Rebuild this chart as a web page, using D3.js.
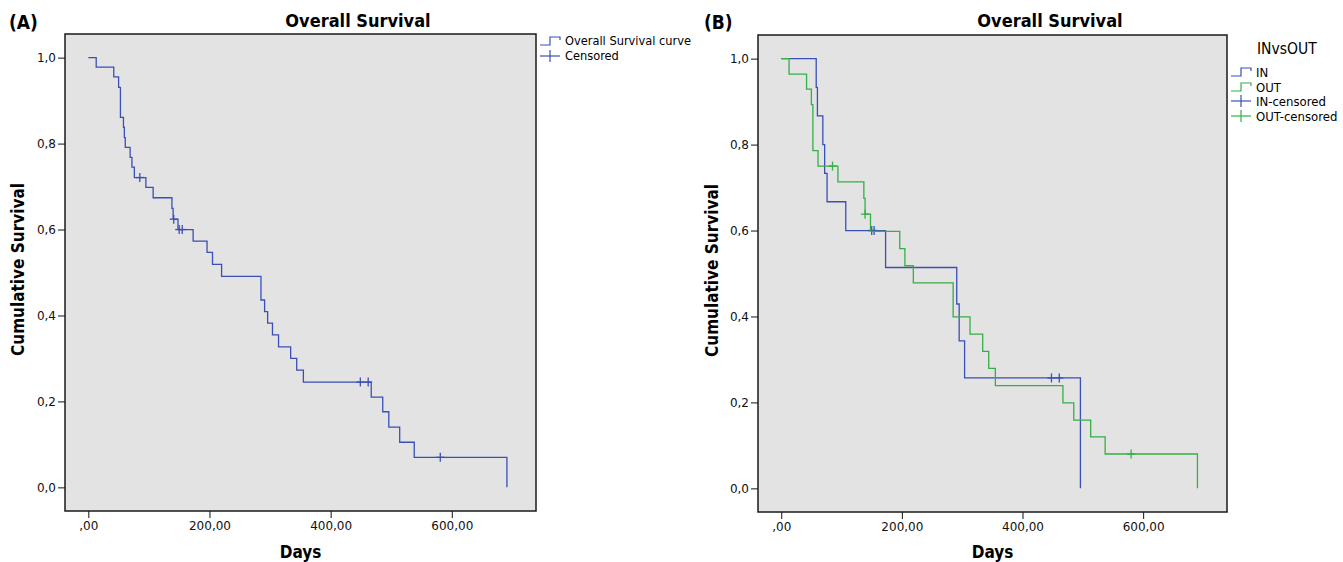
<!DOCTYPE html>
<html>
<head>
<meta charset="utf-8">
<script src="https://cdn.jsdelivr.net/npm/d3@7"></script>
<style>
  body { margin: 0; background: #fff; }
  svg { display: block; }
  .tick text { font-family: "DejaVu Sans", sans-serif; font-size: 12px; fill: #111; }
  .tick line, .domain { stroke: #111; }
</style>
</head>
<body>
<div id="chart"></div>
<script>
// panel A: overall survival (step times in days, survival after each step)
var allTimes = [0, 13, 42, 50, 53, 58, 59.5, 61, 69, 72, 76, 95, 107, 138, 140, 148, 173, 196, 205, 220,
                285, 291, 296, 304, 314, 334, 344, 355, 467, 486, 496, 514, 538, 691];
var allSurv  = [1, 0.978, 0.955, 0.931, 0.861, 0.838, 0.814, 0.791, 0.768, 0.745, 0.721, 0.698, 0.674, 0.649, 0.624, 0.600, 0.573, 0.547, 0.519, 0.491,
                0.436, 0.409, 0.382, 0.355, 0.327, 0.300, 0.273, 0.245, 0.210, 0.176, 0.140, 0.105, 0.070, 0];
var allCensored = [85, 141, 150, 155, 449, 462, 581];

// panel B: IN group
var inTimes = [0, 58, 60, 69, 72, 76, 107, 173, 291, 295, 304, 496];
var inSurv  = [1, 0.933, 0.867, 0.800, 0.733, 0.667, 0.600, 0.514, 0.429, 0.343, 0.257, 0];
var inCensored = [150, 154, 448, 461];

// panel B: OUT group
var outTimes = [0, 13, 42, 50, 52.5, 61, 94, 137, 139, 148, 196.5, 205, 219, 285, 313, 334, 344, 355, 467, 485, 513, 537, 690];
var outSurv  = [1, 0.964, 0.929, 0.893, 0.786, 0.750, 0.713, 0.675, 0.638, 0.598, 0.558, 0.518, 0.478, 0.399, 0.359, 0.319, 0.279, 0.239, 0.199, 0.159, 0.120, 0.080, 0];
var outCensored = [85, 139, 580];

var yTicks = [0, 0.2, 0.4, 0.6, 0.8, 1.0];
var xTicks = [0, 200, 400, 600];

var blue = "#3a4fb8", green = "#34b044";
var bold = "'DejaVu Sans Condensed', 'DejaVu Sans', sans-serif";

var svg = d3.select("#chart").append("svg")
    .attr("width", 1343)
    .attr("height", 562);

function survAt(times, surv, t) {
  var i = d3.bisectRight(times, t) - 1;
  return surv[Math.max(i, 0)];
}

function drawPanel(p) {
  var x = d3.scaleLinear().domain([-38.5, 739]).range([0, p.w]);
  var y = d3.scaleLinear().domain([-0.055, 1.055]).range([p.h, 0]);

  var g = svg.append("g").attr("transform", "translate(" + p.left + "," + p.top + ")");

  g.append("rect")
    .attr("width", p.w).attr("height", p.h)
    .attr("fill", "#e3e3e3");

  // axes
  g.append("g")
    .attr("transform", "translate(0," + p.h + ")")
    .call(d3.axisBottom(x).tickValues(xTicks).tickSize(7).tickPadding(3).tickSizeOuter(0)
      .tickFormat(function(d) { return d === 0 ? ",00" : d + ",00"; }));
  g.append("g")
    .call(d3.axisLeft(y).tickValues(yTicks).tickSize(7).tickPadding(2).tickSizeOuter(0)
      .tickFormat(function(d) { return d3.format(".1f")(d).replace(".", ","); }));

  g.selectAll(".domain").remove();

  g.append("rect")
    .attr("width", p.w).attr("height", p.h)
    .attr("fill", "none")
    .attr("stroke", "#1a1a1a")
    .attr("stroke-width", 1.5);

  var line = d3.line()
    .x(function(d) { return x(d[0]); })
    .y(function(d) { return y(d[1]); })
    .curve(d3.curveStepAfter);

  p.series.forEach(function(s) {
    var pts = s.times.map(function(t, i) { return [t, s.surv[i]]; });
    g.append("path")
      .datum(pts)
      .attr("fill", "none")
      .attr("stroke", s.color)
      .attr("stroke-width", 1.3)
      .attr("d", line);

    var marks = g.selectAll(null)
      .data(s.censored)
      .enter().append("g")
        .attr("transform", function(t) {
          return "translate(" + x(t) + "," + y(survAt(s.times, s.surv, t)) + ")";
        });
    marks.append("line").attr("x1", -4).attr("x2", 4)
      .attr("stroke", s.color).attr("stroke-width", 1.3);
    marks.append("line").attr("y1", -4.5).attr("y2", 4.5)
      .attr("stroke", s.color).attr("stroke-width", 1.3);
  });

  // titles
  svg.append("text")
    .attr("x", p.titleX).attr("y", 27)
    .attr("text-anchor", "middle")
    .style("font-family", bold).style("font-size", "18px").style("font-weight", "bold")
    .text("Overall Survival");
  svg.append("text")
    .attr("x", p.tagX).attr("y", 29)
    .style("font-family", bold).style("font-size", "19px").style("font-weight", "bold")
    .text(p.tag);
  svg.append("text")
    .attr("x", p.left + p.w / 2).attr("y", 558)
    .attr("text-anchor", "middle")
    .style("font-family", bold).style("font-size", "17px").style("font-weight", "bold")
    .text("Days");
  svg.append("text")
    .attr("transform", "translate(" + p.ylabX + "," + (p.top + p.h / 2 - 3) + ") rotate(-90)")
    .attr("text-anchor", "middle")
    .style("font-family", bold).style("font-size", "17px").style("font-weight", "bold")
    .text("Cumulative Survival");

  // legend
  var lg = svg.append("g").attr("transform", "translate(" + p.legX + ",0)");
  if (p.legTitle) {
    lg.append("text")
      .attr("x", 26).attr("y", p.legTitleY)
      .style("font-family", bold).style("font-size", "15.5px")
      .text(p.legTitle);
  }
  p.legend.forEach(function(it) {
    var row = lg.append("g").attr("transform", "translate(0," + it.y + ")");
    if (it.kind === "step") {
      row.append("path")
        .attr("d", "M0,4H10V-4H20V-1")
        .attr("fill", "none").attr("stroke", it.color).attr("stroke-width", 1.2);
    } else {
      row.append("line").attr("x1", 0).attr("x2", 20).attr("stroke", it.color).attr("stroke-width", 1.2);
      row.append("line").attr("x1", 10).attr("x2", 10).attr("y1", -6).attr("y2", 6)
        .attr("stroke", it.color).attr("stroke-width", 1.2);
    }
    row.append("text")
      .attr("x", 25).attr("dy", "0.35em")
      .style("font-family", bold).style("font-size", it.size)
      .text(it.label);
  });
}

drawPanel({
  left: 65, top: 34, w: 471, h: 477, tag: "(A)", tagX: 9, ylabX: 24, legX: 540, titleX: 358,
  series: [{ times: allTimes, surv: allSurv, censored: allCensored, color: blue }],
  legend: [
    { kind: "step", color: blue, label: "Overall Survival curve", y: 41, size: "12.7px" },
    { kind: "cross", color: blue, label: "Censored", y: 56, size: "12.7px" }
  ]
});

drawPanel({
  left: 758, top: 35, w: 469, h: 477, tag: "(B)", tagX: 704, ylabX: 718, legX: 1231, titleX: 1050,
  legTitle: "INvsOUT", legTitleY: 54,
  series: [
    { times: inTimes, surv: inSurv, censored: inCensored, color: blue },
    { times: outTimes, surv: outSurv, censored: outCensored, color: green }
  ],
  legend: [
    { kind: "step", color: blue, label: "IN", y: 72, size: "13px" },
    { kind: "step", color: green, label: "OUT", y: 87, size: "13px" },
    { kind: "cross", color: blue, label: "IN-censored", y: 101, size: "13px" },
    { kind: "cross", color: green, label: "OUT-censored", y: 116, size: "13px" }
  ]
});
</script>
</body>
</html>
